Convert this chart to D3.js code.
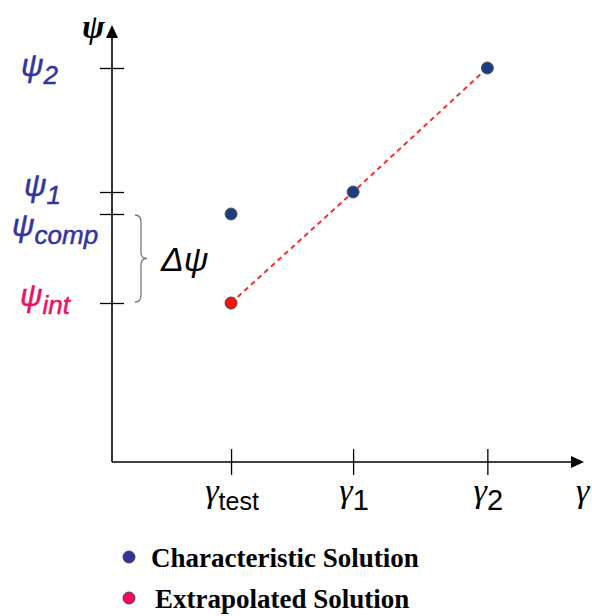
<!DOCTYPE html>
<html>
<head>
<meta charset="utf-8">
<script src="https://cdn.jsdelivr.net/npm/d3@7"></script>
<style>
  body { margin: 0; background: #fff; }
  svg { display: block; }
</style>
</head>
<body>
<script>
// abscissa values (gamma) and ordinate values (psi)
const gammaNames = ["test", "1", "2"];
const gammaVals  = [1, 2, 3.1];
const psiNames   = ["2", "1", "comp", "int"];
const psiVals    = [3.94, 2.70, 2.48, 1.59];

// points
const characteristic = [[1, 2.48], [2, 2.70], [3.1, 3.94]];
const extrapolated   = [[1, 1.59]];
// dashed extrapolation line: from extrapolated point through gamma1 to gamma2
const extrapLine     = [[1, 1.59], [2, 2.70], [3.1, 3.94]];

const legendItems = ["Characteristic Solution", "Extrapolated Solution"];

const width = 592, height = 616;
const blue = "#1d3d80", red = "#ff1111";
const labBlue = "#3434a0", labPink = "#ee1166";

const svg = d3.select("body").append("svg")
    .attr("width", width)
    .attr("height", height);

const x = d3.scaleLinear().domain([0, 3.9]).range([109, 585]);
const y = d3.scaleLinear().domain([0, 4.37]).range([462, 25]);

const x0 = 112, y0 = 462;

// y axis ticks (crossing the axis)
const yAx = svg.append("g")
    .attr("transform", `translate(${x0},0)`)
    .call(d3.axisLeft(y).tickValues(psiVals).tickFormat("").tickSize(12));
yAx.select(".domain").remove();
yAx.selectAll(".tick line").attr("x1", 12).attr("x2", -12)
    .attr("stroke", "#000").attr("stroke-width", 1.3);

// x axis ticks
const xAx = svg.append("g")
    .attr("transform", `translate(0,${y0})`)
    .call(d3.axisBottom(x).tickValues(gammaVals).tickFormat("").tickSize(13));
xAx.select(".domain").remove();
xAx.selectAll(".tick line").attr("y1", -13).attr("y2", 13)
    .attr("stroke", "#000").attr("stroke-width", 1.3);

// axis lines with arrows
svg.append("line").attr("x1", x0).attr("y1", y0).attr("x2", x0).attr("y2", 36)
    .attr("stroke", "#000").attr("stroke-width", 1.6);
svg.append("path").attr("d", `M${x0},25 L${x0 - 6},38 L${x0 + 6},38 Z`).attr("fill", "#000");
svg.append("line").attr("x1", x0).attr("y1", y0).attr("x2", 573).attr("y2", y0)
    .attr("stroke", "#000").attr("stroke-width", 1.6);
svg.append("path").attr("d", `M584,${y0} L571,${y0 - 6} L571,${y0 + 6} Z`).attr("fill", "#000");

// axis titles
svg.append("text").attr("x", 82).attr("y", 38)
    .attr("font-family", "Liberation Serif, Times, serif")
    .attr("font-style", "italic").attr("font-weight", "bold")
    .attr("font-size", 34).text("ψ");
svg.append("text").attr("x", 576).attr("y", 502)
    .attr("font-family", "Liberation Serif, Times, serif")
    .attr("font-style", "italic")
    .attr("font-size", 34).text("γ");

// y tick labels
const yOff = { "2": 8, "1": 4, "comp": 22, "int": 3 };
const yX   = { "2": 21, "1": 24, "comp": 12, "int": 20 };
psiNames.forEach((n, i) => {
  const col = n === "int" ? labPink : labBlue;
  const t = svg.append("text")
      .attr("x", yX[n]).attr("y", y(psiVals[i]) + yOff[n])
      .attr("font-family", "Liberation Sans, Arial, sans-serif")
      .attr("font-style", "italic")
      .attr("fill", col).attr("stroke", col).attr("stroke-width", 0.5);
  t.append("tspan").attr("font-size", 31).text("ψ");
  t.append("tspan").attr("font-size", 26).attr("dy", 8).text(n);
});

// x tick labels
gammaNames.forEach((n, i) => {
  const t = svg.append("text")
      .attr("x", x(gammaVals[i]) + 1).attr("y", 502)
      .attr("text-anchor", "middle");
  t.append("tspan").attr("font-family", "Liberation Serif, Times, serif")
      .attr("font-style", "italic").attr("font-size", 34).text("γ");
  t.append("tspan").attr("font-family", "Liberation Sans, Arial, sans-serif")
      .attr("font-size", n === "test" ? 25 : 29).attr("dy", 8).text(n);
});

// brace between psi_comp and psi_int
const bt = y(psiVals[2]) + 1, bb = y(psiVals[3]) - 1, bm = (bt + bb) / 2;
svg.append("path")
    .attr("d", `M135,${bt} Q141,${bt} 141,${bt + 7} L141,${bm - 6} Q141,${bm} 147,${bm} Q141,${bm} 141,${bm + 6} L141,${bb - 7} Q141,${bb} 135,${bb}`)
    .attr("fill", "none").attr("stroke", "#777").attr("stroke-width", 1.3);
svg.append("text").attr("x", 161).attr("y", bm + 12)
    .attr("font-family", "Liberation Sans, Arial, sans-serif")
    .attr("font-style", "italic").attr("font-size", 34).text("Δψ");

// dashed extrapolation line
svg.append("path")
    .datum(extrapLine)
    .attr("d", d3.line().x(d => x(d[0])).y(d => y(d[1])))
    .attr("fill", "none").attr("stroke", "#ff2a2a")
    .attr("stroke-width", 2).attr("stroke-dasharray", "5,4");

// points
svg.selectAll(".char").data(characteristic).join("circle")
    .attr("cx", d => x(d[0])).attr("cy", d => y(d[1])).attr("r", 6)
    .attr("fill", blue).attr("stroke", "#555").attr("stroke-width", 1);
svg.selectAll(".ext").data(extrapolated).join("circle")
    .attr("cx", d => x(d[0])).attr("cy", d => y(d[1])).attr("r", 6)
    .attr("fill", red).attr("stroke", "#444").attr("stroke-width", 1);

// legend
const legColors = ["#333399", "#ff0066"];
legendItems.forEach((txt, i) => {
  const ly = 557 + i * 41;
  svg.append("circle").attr("cx", 129).attr("cy", ly).attr("r", 6)
      .attr("fill", legColors[i]).attr("stroke", "#444").attr("stroke-width", 1);
  svg.append("text").attr("x", i === 0 ? 151 : 155).attr("y", ly + 10)
      .attr("font-family", "Liberation Serif, Times New Roman, serif")
      .attr("font-weight", "bold").attr("font-size", 27).text(txt);
});
</script>
</body>
</html>
